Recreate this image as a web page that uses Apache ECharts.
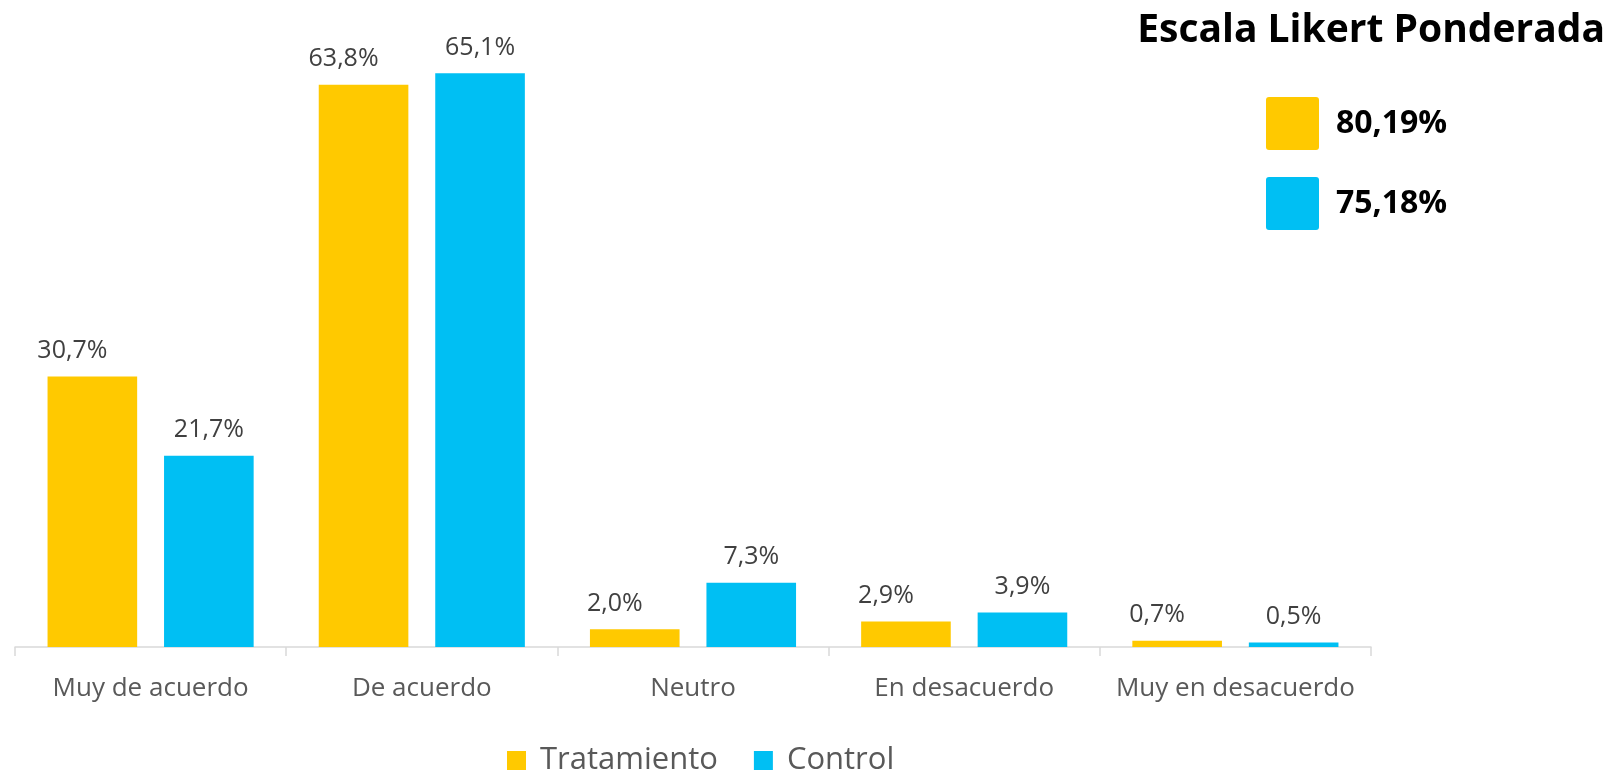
<!DOCTYPE html>
<html>
<head>
<meta charset="utf-8">
<script src="https://cdn.jsdelivr.net/npm/echarts@6/dist/echarts.min.js"></script>
<style>
  html, body { margin: 0; padding: 0; background: #fff; }
  #main { width: 1616px; height: 777px; }
</style>
</head>
<body>
<div id="main"></div>
<script>
var categories = ['Muy de acuerdo', 'De acuerdo', 'Neutro', 'En desacuerdo', 'Muy en desacuerdo'];
var seriesNames = ['Tratamiento', 'Control'];
var tratamiento = [30.7, 63.8, 2.0, 2.9, 0.7];
var control = [21.7, 65.1, 7.3, 3.9, 0.5];
var ponderada = [80.19, 75.18];   // escala Likert ponderada
var colors = ['#FFC900', '#00BFF3'];

var font = "'Open Sans', 'Liberation Sans', sans-serif";

function pct(v, d) {
  return v.toFixed(d).replace('.', ',') + '%';
}

var chart = echarts.init(document.getElementById('main'));

// cuadro de la derecha con los valores ponderados
var boxes = [];
ponderada.forEach(function (v, i) {
  var y = 97 + i * 80;
  boxes.push({
    type: 'rect',
    shape: { x: 1266, y: y, width: 53, height: 53, r: 3 },
    style: { fill: colors[i] }
  });
  boxes.push({
    type: 'text',
    x: 1336,
    y: y + 27,
    style: {
      text: pct(v, 2),
      font: 'bold 32px ' + font,
      fill: '#000',
      verticalAlign: 'middle'
    }
  });
});

function barLabel(dx) {
  return {
    show: true,
    position: 'top',
    distance: 13,
    offset: [dx, 0],
    fontFamily: font,
    fontSize: 25,
    color: '#404040',
    formatter: function (p) { return pct(p.value, 1); }
  };
}

var option = {
  backgroundColor: '#fff',
  animation: false,
  title: {
    text: 'Escala Likert Ponderada',
    right: 6,
    top: 6,
    textStyle: { fontFamily: font, fontWeight: 'bold', fontSize: 39, color: '#000' }
  },
  legend: {
    data: seriesNames,
    left: 502,
    top: 740,
    itemWidth: 19,
    itemHeight: 19,
    itemGap: 36,
    icon: 'rect',
    textStyle: { fontFamily: font, fontSize: 31, color: '#595959', padding: [0, 0, 0, 9] }
  },
  grid: { left: 15, right: 245, top: 30, bottom: 130 },
  xAxis: {
    type: 'category',
    data: categories,
    axisLine: { lineStyle: { color: '#D9D9D9', width: 1.5 } },
    axisTick: { show: true, length: 9, lineStyle: { color: '#D9D9D9', width: 1.5 } },
    axisLabel: { interval: 0, fontFamily: font, fontSize: 26, color: '#595959', margin: 29 }
  },
  yAxis: {
    type: 'value',
    min: 0,
    max: 70,
    show: false,
    splitLine: { show: false }
  },
  graphic: boxes,
  series: [
    {
      name: seriesNames[0],
      type: 'bar',
      data: tratamiento,
      itemStyle: { color: colors[0] },
      barGap: '30%',
      barCategoryGap: '24%',
      label: barLabel(-20)
    },
    {
      name: seriesNames[1],
      type: 'bar',
      data: control,
      itemStyle: { color: colors[1] },
      barGap: '30%',
      barCategoryGap: '24%',
      label: barLabel(0)
    }
  ]
};

chart.setOption(option);
</script>
</body>
</html>
